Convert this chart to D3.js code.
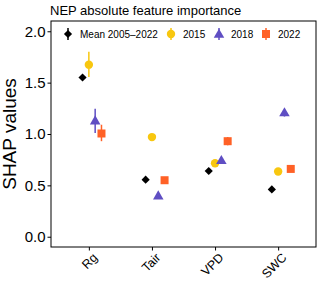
<!DOCTYPE html>
<html><head><meta charset="utf-8">
<script src="https://cdn.jsdelivr.net/npm/d3@7"></script>
<style>body{margin:0;background:#fff}svg{display:block;font-family:"Liberation Sans",Arial,sans-serif}</style>
</head><body>
<script>
const categories = ["Rg", "Tair", "VPD", "SWC"];
const seriesNames = ["Mean 2005\u20132022", "2015", "2018", "2022"];
const meanVals = [1.55, 0.555, 0.64, 0.46];
const v2015 = [1.675, 0.97, 0.715, 0.635];
const v2018 = [1.13, 0.40, 0.745, 1.21];
const v2022 = [1.005, 0.55, 0.93, 0.66];
const lo2015 = [1.555, 0.95, 0.705, 0.625];
const hi2015 = [1.80, 0.99, 0.725, 0.645];
const lo2018 = [1.01, 0.39, 0.735, 1.17];
const hi2018 = [1.245, 0.41, 0.755, 1.23];
const lo2022 = [0.93, 0.52, 0.89, 0.65];
const hi2022 = [1.09, 0.58, 0.97, 0.67];
const yTicks = [0.0, 0.5, 1.0, 1.5, 2.0];

const W = 320, H = 281;
const m = {l: 51, r: 4, t: 21, b: 34};
const svg = d3.select("body").append("svg").attr("width", W).attr("height", H);

const x = d3.scalePoint().domain(categories).range([m.l, W - m.r]).padding(0.6);
const y = d3.scaleLinear().domain([-0.1, 2.1]).range([H - m.b, m.t]);
const step = x.step();

const colors = ["#000000", "#F8C70F", "#5F4EC3", "#FF6126"];
const offsets = [-0.1, 0, 0.1, 0.2];
const vals = [meanVals, v2015, v2018, v2022];
const los = [null, lo2015, lo2018, lo2022];
const his = [null, hi2015, hi2018, hi2022];

function shape(g, i) {
  if (i === 0) {
    g.append("rect").attr("x", -2.9).attr("y", -2.9).attr("width", 5.8).attr("height", 5.8)
      .attr("transform", "rotate(45)").attr("fill", colors[0]);
  } else if (i === 1) {
    g.append("circle").attr("r", 4.2).attr("fill", colors[1]);
  } else if (i === 2) {
    g.append("path").attr("d", d3.symbol(d3.symbolTriangle, 48)()).attr("transform", "translate(0,0.8)").attr("fill", colors[2]);
  } else {
    g.append("rect").attr("x", -4).attr("y", -4).attr("width", 8).attr("height", 8).attr("fill", colors[3]);
  }
}

// title
svg.append("text").attr("x", 50).attr("y", 15).attr("font-size", 13).attr("fill", "#000")
  .text("NEP absolute feature importance");

// y axis
const yAxis = svg.append("g").attr("transform", `translate(${m.l},0)`)
  .call(d3.axisLeft(y).tickValues(yTicks).tickFormat(d3.format(".1f")).tickSize(3.5).tickPadding(2));
yAxis.select(".domain").remove();
yAxis.selectAll("text").attr("font-size", 15).attr("fill", "#000").attr("font-family", "Liberation Sans, Arial, sans-serif");
yAxis.selectAll("line").attr("stroke", "#000");

// x axis
const xAxis = svg.append("g").attr("transform", `translate(0,${H - m.b})`)
  .call(d3.axisBottom(x).tickSize(3.5).tickFormat(""));
xAxis.select(".domain").remove();
xAxis.selectAll("line").attr("stroke", "#000");
svg.append("g").selectAll("text").data(categories).join("text")
  .attr("transform", d => `translate(${x(d) + 3},${H - m.b + 5}) rotate(-45)`)
  .attr("text-anchor", "end").attr("dy", "0.72em").attr("font-size", 12.5).attr("fill", "#000")
  .text(d => d);

// y title
svg.append("text").attr("transform", `translate(16,${(m.t + H - m.b) / 2}) rotate(-90)`)
  .attr("text-anchor", "middle").attr("font-size", 19).attr("fill", "#000").text("SHAP values");

// data
vals.forEach((arr, i) => {
  const g = svg.append("g");
  categories.forEach((c, j) => {
    const cx = x(c) + offsets[i] * step;
    if (los[i]) {
      g.append("line").attr("x1", cx).attr("x2", cx).attr("y1", y(los[i][j])).attr("y2", y(his[i][j]))
        .attr("stroke", colors[i]).attr("stroke-width", 1.5);
    }
    const s = g.append("g").attr("transform", `translate(${cx},${y(arr[j])})`);
    shape(s, i);
  });
});

// legend
const legX = [68, 171, 219, 266];
const leg = svg.append("g");
seriesNames.forEach((n, i) => {
  const g = leg.append("g").attr("transform", `translate(${legX[i]},34)`);
  g.append("line").attr("y1", -6).attr("y2", 6).attr("stroke", colors[i]).attr("stroke-width", 1.5);
  shape(g, i);
  g.append("text").attr("x", 12).attr("y", 3.6).attr("font-size", 10).attr("fill", "#000").text(n);
});

// panel border
svg.append("rect").attr("x", m.l).attr("y", m.t).attr("width", W - m.r - m.l).attr("height", H - m.b - m.t)
  .attr("fill", "none").attr("stroke", "#000").attr("stroke-width", 1);
</script>
</body></html>
